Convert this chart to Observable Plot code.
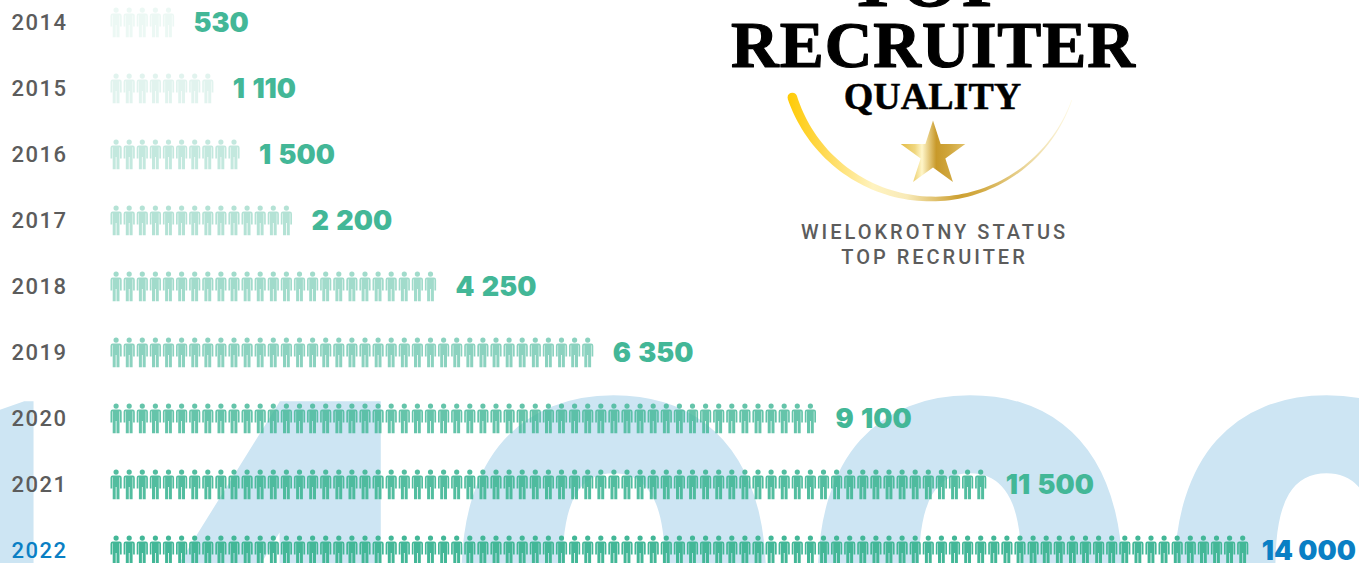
<!DOCTYPE html>
<html><head><meta charset="utf-8">
<script src="https://cdn.jsdelivr.net/npm/d3@7"></script>
<script src="https://cdn.jsdelivr.net/npm/@observablehq/plot@0.6"></script>
<style>
html,body{margin:0;padding:0;background:#fff;overflow:hidden}
svg{display:block}
.ls15 {letter-spacing:1.5px}
.ls3 {letter-spacing:3px}
.lsr {letter-spacing:1px}
.lst {letter-spacing:3px}
.ws {word-spacing:2px}
</style></head><body><div id="chart"></div>
<script>
const years=[2014,2015,2016,2017,2018,2019,2020,2021,2022];
const recruits=[530,1110,1500,2200,4250,6350,9100,11500,14000];
const figures=[5,8,10,14,25,37,54,67,87];
const shades=[0.1,0.16,0.32,0.4,0.5,0.62,0.82,0.92,1];
const backdropParts=["1","4","000"];
const logoLines=["TOP","RECRUITER","QUALITY"];
const statusText="WIELOKROTNY STATUS\nTOP RECRUITER";

const green="#43b797",blue="#0a7fc4",grey="#5c5c5c";
const fmt=d3.formatLocale({thousands:" ",grouping:[3],decimal:",",currency:["",""]}).format(",");
const rows=years.map((year,i)=>({year,value:recruits[i],n:figures[i],shade:shades[i]}));
const people=rows.flatMap(r=>d3.range(r.n).map(i=>({i,year:r.year,shade:r.shade})));

const person={draw(c){
  c.moveTo(2.6,-12.4);c.arc(0,-12.4,2.6,0,2*Math.PI);c.closePath();
  c.moveTo(-3.4,-9);c.lineTo(3.4,-9);c.lineTo(3.4,2.5);c.lineTo(-3.4,2.5);c.closePath();
  c.moveTo(-3.4,2.5);c.lineTo(-0.4,2.5);c.lineTo(-0.4,14.8);c.lineTo(-3.4,14.8);c.closePath();
  c.moveTo(0.4,2.5);c.lineTo(3.4,2.5);c.lineTo(3.4,14.8);c.lineTo(0.4,14.8);c.closePath();
  c.moveTo(-3.4,-9);c.lineTo(-3.4,-7.6);c.lineTo(-3.9,-7);c.lineTo(-3.9,3.9);c.lineTo(-5.6,3.9);c.lineTo(-5.6,-6.8);c.quadraticCurveTo(-5.6,-9,-3.4,-9);c.closePath();
  c.moveTo(3.4,-9);c.quadraticCurveTo(5.6,-9,5.6,-6.8);c.lineTo(5.6,3.9);c.lineTo(3.9,3.9);c.lineTo(3.9,-7);c.lineTo(3.4,-7.6);c.closePath();
}};
const swoosh={draw(c){
  const N=80,start=Math.PI-0.317,end=0.335,R=147.5;
  const pts=d3.range(N+1).map(k=>start+(end-start)*k/N);
  const w=t=>9*Math.pow(1-t,1.15)+0.7;
  pts.forEach((a,k)=>{const r=R+w(k/N)/2;const X=r*Math.cos(a),Y=r*Math.sin(a);k?c.lineTo(X,Y):c.moveTo(X,Y);});
  pts.slice().reverse().forEach((a,k)=>{const r=R-w(1-k/N)/2;c.lineTo(r*Math.cos(a),r*Math.sin(a));});
  c.closePath();
  const sx=R*Math.cos(start),sy=R*Math.sin(start);
  c.moveTo(sx+4.8,sy);c.arc(sx,sy,4.8,0,2*Math.PI,true);c.closePath();
}};
const defs=()=>{
  const s=d3.create("svg:defs");
  const g1=s.append("linearGradient").attr("id","arcG");
  [[0,"#ffcb05"],[0.12,"#ffd84d"],[0.3,"#fff3c0"],[0.42,"#f8eab8"],[0.6,"#cda032"],[0.68,"#d3ab45"],[0.85,"#ecd9a0"],[1,"#fffbe8"]]
    .forEach(([o,c])=>g1.append("stop").attr("offset",o).attr("stop-color",c));
  const g2=s.append("linearGradient").attr("id","starG");
  [[0,"#e3bb45"],[0.22,"#f0d780"],[0.33,"#fff6c9"],[0.55,"#c8992a"],[0.75,"#d0a63c"],[1,"#e2c26a"]]
    .forEach(([o,c])=>g2.append("stop").attr("offset",o).attr("stop-color",c));
  return s.node();
};
const px={frameAnchor:"top-left"};
const back={text:d=>d,textAnchor:"start",lineAnchor:"bottom",fontFamily:"Roboto",fontWeight:900,fontSize:615,fill:"#cde5f3"};
const chart=Plot.plot({
  width:1359,height:563,margin:0,
  style:{background:"transparent",overflow:"hidden"},
  x:{domain:[-115.6/13.1,(1359-115.6)/13.1],range:[0,1359],axis:null},
  y:{domain:[2014-22/66,2014+541/66],range:[0,563],axis:null},
  marks:[
    defs,
    Plot.text([backdropParts[0]],{...px,...back,dx:-218,dy:838}),
    Plot.text([backdropParts[1]],{...px,...back,dx:86,dy:838}),
    Plot.text([backdropParts[2]],{...px,...back,dx:435,dy:838}),
    ...rows.map(r=>Plot.dot(people.filter(p=>p.year===r.year),{x:"i",y:"year",symbol:person,r:4,fill:green,fillOpacity:r.shade,stroke:"none"})),
    Plot.text(rows,{x:0,y:"year",text:d=>String(d.year),dx:-104.6,dy:0.5,textAnchor:"start",fontFamily:"Roboto",fontWeight:500,fontSize:22,fill:d=>d.year===2022?blue:grey,className:"ls15"}),
    Plot.text(rows.slice(0,-1),{x:d=>d.n-1,y:"year",text:d=>fmt(d.value),dx:25,dy:1,textAnchor:"start",fontFamily:"Inter",fontWeight:900,fontSize:27,fill:green,className:"ws"}),
    Plot.text(rows.slice(-1),{x:d=>d.n-1,y:"year",text:d=>fmt(d.value),dx:19,dy:1,textAnchor:"start",fontFamily:"Inter",fontWeight:900,fontSize:27,fill:blue}),
    Plot.text([logoLines[0]],{...px,dx:929,dy:5,text:d=>d,textAnchor:"middle",lineAnchor:"bottom",fontFamily:"Liberation Serif",fontWeight:700,fontSize:76,fill:"#000",stroke:"#000",strokeWidth:1,className:"lst"}),
    Plot.text([logoLines[1]],{...px,dx:933,dy:66,text:d=>d,textAnchor:"middle",lineAnchor:"bottom",fontFamily:"Liberation Serif",fontWeight:700,fontSize:66,fill:"#000",stroke:"#000",strokeWidth:1.2,className:"lsr"}),
    Plot.text([logoLines[2]],{...px,dx:932,dy:108,text:d=>d,textAnchor:"middle",lineAnchor:"bottom",fontFamily:"Liberation Serif",fontWeight:700,fontSize:38,fill:"#000",stroke:"#000",strokeWidth:0.5}),
    Plot.dot([0],{...px,dx:932,dy:51,symbol:swoosh,r:4,fill:"url(#arcG)",stroke:"none"}),
    Plot.dot([0],{...px,dx:932.5,dy:154,symbol:"star",r:20.3,fill:"url(#starG)",stroke:"none"}),
    Plot.text([statusText],{...px,dx:934,dy:221,text:d=>d,textAnchor:"middle",lineHeight:1.25,fontFamily:"Roboto",fontWeight:500,fontSize:20,fill:grey,className:"ls3"})
  ]
});
document.getElementById("chart").append(chart);
</script></body></html>
